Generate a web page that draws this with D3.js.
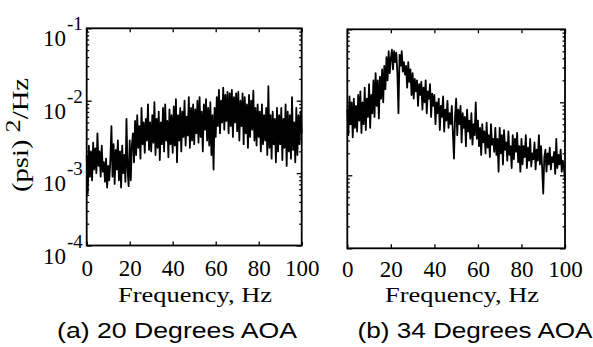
<!DOCTYPE html>
<html>
<head>
<meta charset="utf-8">
<script src="https://cdn.jsdelivr.net/npm/d3@7"></script>
<style>
  body { margin: 0; background: #fff; }
  svg { display: block; }
  .tick text { font-family: "Liberation Serif", "Times New Roman", serif; font-size: 23px; fill: #000; }
</style>
</head>
<body>
<div id="chart"></div>
<script>
// frequency grid, Hz (0.5 Hz spacing)
const freqs = d3.range(0, 100.5, 0.5);
const xTicks = [0, 20, 40, 60, 80, 100];
const decades = [-4, -3, -2, -1];

// log10 of PSD, (psi)^2/Hz (a) 20 deg AOA
const psdA = [
  -2.75,-3.28,-2.62,-3.05,-2.7,-3.1,-2.58,-2.95,-2.66,-3.0,-2.45,-2.9,-2.7,-3.05,-2.62,-2.98,-2.85,-3.12,-2.8,-3.2,
  -2.9,-3.1,-2.82,-2.35,-3.05,-2.6,-3.15,-2.68,-2.95,-2.55,-3.1,-2.7,-3.2,-2.62,-3.0,-2.75,-3.12,-2.25,-2.95,-3.18,
  -2.55,-3.1,-2.62,-2.45,-2.85,-2.28,-2.75,-2.2,-2.65,-2.35,-2.8,-2.1,-2.6,-2.3,-2.72,-2.25,-2.55,-2.05,-2.68,-2.3,
  -2.7,-2.2,-2.58,-2.02,-2.75,-2.25,-2.65,-2.15,-2.82,-2.3,-2.6,-2.1,-2.7,-2.05,-2.55,-2.28,-2.78,-2.12,-2.6,-2.2,
  -2.72,-2.08,-2.62,-1.98,-2.85,-2.2,-2.55,-2.1,-2.7,-2.15,-2.5,-2.0,-2.62,-2.22,-2.48,-1.95,-2.65,-2.1,-2.55,-2.05,
  -2.6,-2.12,-2.45,-2.0,-2.58,-1.95,-2.5,-2.15,-2.7,-2.05,-2.4,-1.98,-2.55,-2.1,-2.62,-2.02,-2.75,-2.2,-2.95,-2.1,
  -2.5,-1.95,-2.35,-1.85,-2.45,-2.0,-2.3,-1.82,-2.4,-1.92,-2.28,-1.88,-2.45,-1.9,-2.35,-1.85,-2.5,-1.95,-2.3,-1.9,
  -2.42,-1.88,-2.55,-2.0,-2.35,-1.9,-2.6,-1.95,-2.45,-2.05,-2.65,-1.92,-2.5,-2.0,-2.4,-1.86,-2.55,-2.1,-2.62,-2.05,
  -2.5,-2.15,-2.7,-2.05,-2.6,-2.2,-2.55,-2.1,-2.75,-1.8,-2.65,-2.2,-2.8,-2.15,-2.6,-2.25,-2.85,-2.1,-2.7,-2.2,
  -2.6,-2.1,-2.82,-2.25,-2.65,-2.05,-2.9,-2.15,-2.7,-2.2,-2.8,-1.95,-2.68,-2.3,-2.85,-2.1,-2.75,-2.2,-2.6,-2.15,
  -2.45
];

// log10 of PSD, panel (b) 34 deg AOA
const psdB = [
  -2.1,-2.45,-1.92,-2.3,-2.0,-2.48,-1.95,-2.35,-2.05,-2.4,-1.9,-2.25,-1.85,-2.42,-2.0,-2.3,-1.8,-2.38,-1.95,-2.2,
  -1.75,-2.35,-1.9,-2.15,-1.7,-2.2,-1.6,-2.05,-1.7,-2.22,-1.65,-1.95,-1.55,-2.0,-1.5,-1.82,-1.38,-1.7,-1.3,-1.6,
  -1.4,-1.28,-1.55,-1.3,-1.45,-1.32,-1.6,-2.15,-1.35,-1.5,-1.3,-1.58,-1.45,-1.62,-1.5,-1.8,-1.45,-1.72,-1.55,-1.9,
  -1.6,-1.95,-1.68,-1.85,-1.7,-2.05,-1.75,-1.9,-1.72,-2.1,-1.8,-2.0,-1.7,-2.15,-1.85,-1.95,-1.75,-2.2,-1.88,-2.05,
  -1.9,-2.3,-2.0,-2.15,-1.95,-2.38,-2.05,-2.2,-1.92,-2.4,-2.1,-2.25,-1.98,-2.35,-2.15,-2.3,-2.05,-2.42,-2.77,-2.2,
  -1.95,-2.45,-2.1,-2.3,-2.05,-2.55,-2.15,-2.35,-2.2,-2.6,-2.1,-2.4,-2.25,-2.5,-2.15,-2.58,-2.3,-2.45,-2.0,-2.5,
  -2.25,-2.6,-2.35,-2.72,-2.3,-2.55,-2.4,-2.7,-2.28,-2.62,-2.45,-2.75,-2.3,-2.58,-2.5,-2.68,-2.35,-2.72,-2.5,-2.95,
  -2.35,-2.7,-2.45,-2.85,-2.38,-2.65,-2.55,-2.8,-2.4,-2.72,-2.6,-2.9,-2.45,-2.78,-2.5,-2.68,-2.42,-2.82,-2.6,-2.95,
  -2.5,-2.85,-2.6,-2.75,-2.45,-2.9,-2.62,-2.8,-2.5,-2.88,-2.7,-2.78,-2.55,-2.92,-2.65,-2.8,-2.45,-2.85,-2.6,-2.9,
  -3.25,-2.75,-2.65,-2.95,-2.7,-2.85,-2.62,-2.92,-2.75,-2.82,-2.68,-2.98,-2.5,-2.9,-2.72,-2.85,-2.65,-2.95,-2.8,-2.9,
  -3.08
];

const captions = ["(a) 20 Degrees AOA", "(b) 34 Degrees AOA"];
const xTitle = "Frequency, Hz";

const W = 593, H = 347;
const svg = d3.select("#chart").append("svg").attr("width", W).attr("height", H);
svg.append("rect").attr("width", W).attr("height", H).attr("fill", "#fff");

const panels = [
  {data: psdA, left: 86.7, right: 301.7, top: 28.3, bottom: 245.5, cap: captions[0], capX: 177, capW: 240, titleX: 195, yLabels: true, pad: 14.5},
  {data: psdB, left: 347.3, right: 565, top: 29.3, bottom: 248.3, cap: captions[1], capX: 475, capW: 235, titleX: 462, yLabels: false, pad: 12}
];

panels.forEach(p => {
  const x = d3.scaleLinear().domain([0, 100]).range([p.left, p.right]);
  const y = d3.scaleLog().domain([1e-4, 1e-1]).range([p.bottom, p.top]);
  const g = svg.append("g");

  // the spectrum trace
  const line = d3.line()
    .x((d, i) => x(freqs[i]))
    .y(d => y(Math.pow(10, d)));
  g.append("path")
    .datum(p.data)
    .attr("d", line)
    .attr("fill", "none")
    .attr("stroke", "#000")
    .attr("stroke-width", 1.8)
    .attr("stroke-linejoin", "round");

  // frame
  g.append("rect")
    .attr("x", p.left).attr("y", p.top)
    .attr("width", p.right - p.left).attr("height", p.bottom - p.top)
    .attr("fill", "none").attr("stroke", "#000").attr("stroke-width", 1.8);

  // x axes
  g.append("g").attr("transform", `translate(0,${p.bottom})`)
    .call(d3.axisBottom(x).tickValues(xTicks).tickSize(-4).tickPadding(p.pad).tickFormat(d3.format("d")));
  g.append("g").attr("transform", `translate(0,${p.top})`)
    .call(d3.axisTop(x).tickValues(xTicks).tickSize(-4).tickFormat(""));

  // y axes, major and minor ticks
  const major = decades.map(k => Math.pow(10, k));
  const minor = y.ticks().filter(v => !major.some(m => Math.abs(m - v) / m < 1e-6));
  [[d3.axisLeft, p.left], [d3.axisRight, p.right]].forEach(([ax, pos]) => {
    g.append("g").attr("transform", `translate(${pos},0)`)
      .call(ax(y).tickValues(major).tickSize(-5).tickFormat(""));
    g.append("g").attr("transform", `translate(${pos},0)`)
      .call(ax(y).tickValues(minor).tickSize(-2.5).tickFormat(""));
  });

  g.selectAll(".domain").remove();
  g.selectAll(".tick line").attr("stroke", "#000").attr("stroke-width", 1.3);

  // y tick labels 10^k
  if (p.yLabels) {
    decades.forEach(k => {
      const t = g.append("text")
        .attr("x", 43).attr("y", y(Math.pow(10, k)) + 18)
        .attr("font-family", "Liberation Serif, serif").attr("font-size", 23);
      t.append("tspan").text("10");
      t.append("tspan").attr("dy", -16).attr("dx", 1).attr("font-size", 19).text("-" + Math.abs(k));
    });
  }

  // x title
  g.append("text")
    .attr("x", p.titleX).attr("y", 302)
    .attr("text-anchor", "middle")
    .attr("font-family", "Liberation Serif, serif").attr("font-size", 22)
    .attr("textLength", 154).attr("lengthAdjust", "spacingAndGlyphs")
    .text(xTitle);

  // caption
  g.append("text")
    .attr("x", p.capX).attr("y", 338)
    .attr("text-anchor", "middle")
    .attr("font-family", "Liberation Sans, Arial, sans-serif").attr("font-size", 22.5)
    .attr("textLength", p.capW).attr("lengthAdjust", "spacingAndGlyphs")
    .text(p.cap);
});

// y axis title (psi)^2/Hz
const yt = svg.append("text")
  .attr("transform", "translate(28,135) rotate(-90)")
  .attr("text-anchor", "middle")
  .attr("font-family", "Liberation Serif, serif").attr("font-size", 24)
  .attr("textLength", 114).attr("lengthAdjust", "spacingAndGlyphs");
yt.append("tspan").text("(psi) ");
yt.append("tspan").attr("dy", -8).attr("font-size", 22).text("2");
yt.append("tspan").attr("dy", 8).text("/Hz");
</script>
</body>
</html>
